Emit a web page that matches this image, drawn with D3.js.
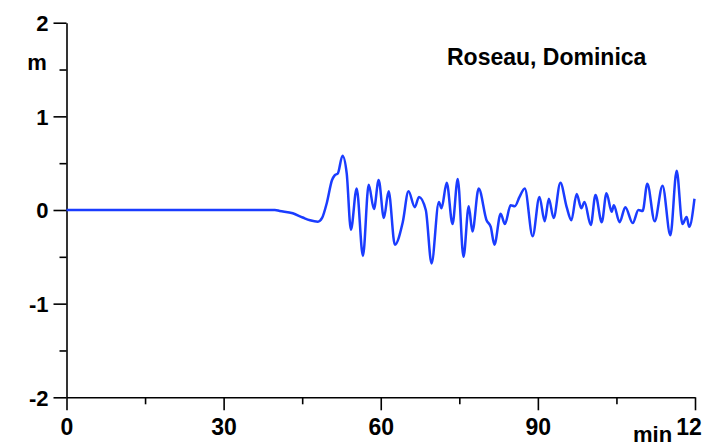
<!DOCTYPE html>
<html>
<head>
<meta charset="utf-8">
<script src="https://cdn.jsdelivr.net/npm/d3@7"></script>
<style>
  body { margin: 0; background: #fff; }
  text { font-family: "Liberation Sans", Arial, sans-serif; font-weight: bold; fill: #000; }
</style>
</head>
<body>
<div id="chart"></div>
<script>
// tide gauge record, minutes vs sea level (m)
const times = [0, 39.8, 40.7, 43.2, 45.1, 46.5, 48.0, 48.8, 49.7, 50.7, 51.2, 51.8, 52.7, 53.5,
  54.3, 55.4, 56.6, 57.7, 58.7, 59.6, 60.6, 61.5, 62.7, 64.2, 65.3, 66.5, 67.3, 68.6, 69.7,
  71.1, 71.6, 72.6, 73.7, 74.7, 75.8, 76.8, 77.5, 78.7, 80.2, 81.0, 81.7, 82.9, 83.7, 84.8,
  85.6, 86.5, 87.5, 89.0, 90.3, 91.3, 92.1, 93.0, 94.3, 95.5, 96.4, 97.4, 98.3, 98.9, 100.1,
  101.0, 102.2, 103.1, 104.1, 104.5, 105.6, 106.7, 108.1, 109.2, 110.0, 110.9, 112.3, 113.8,
  115.3, 116.5, 117.6, 118.4, 118.9, 119.9];
const levels = [0, 0, -0.01, -0.035, -0.08, -0.11, -0.125, -0.085, 0.075, 0.32, 0.37, 0.39, 0.58, 0.39,
  -0.21, 0.23, -0.49, 0.27, 0.01, 0.32, -0.085, 0.2, -0.37, -0.13, 0.2, 0.03, 0.14, 0, -0.57,
  0.085, 0.02, 0.29, -0.15, 0.33, -0.5, 0.04, -0.23, 0.23, -0.11, -0.18, -0.37, -0.04, -0.15, 0.05,
  0.04, 0.14, 0.23, -0.28, 0.14, -0.12, 0.12, -0.085, 0.29, 0.03, -0.11, 0.17, 0.02, 0.085, -0.16,
  0.16, -0.13, 0.18, -0.02, 0.05, -0.13, 0.03, -0.14, 0, -0.01, 0.28, -0.12, 0.26,
  -0.27, 0.42, -0.15, -0.075, -0.18, 0.12];

const xMajor = [0, 30, 60, 90, 120];
const xMinor = [15, 45, 75, 105];
const yMajor = [-2, -1, 0, 1, 2];
const yMinor = [-1.5, -0.5, 0.5, 1.5];

const W = 702, H = 446;
const svg = d3.select("#chart").append("svg")
  .attr("width", W).attr("height", H);

const x = d3.scaleLinear().domain([0, 120]).range([66.5, 695]);
const y = d3.scaleLinear().domain([-2, 2]).range([397.3, 22.7]);

// plain hyphen for negatives, like the original
const fmt = d => String(d);

// axes
const gx = svg.append("g").attr("transform", `translate(0,${y(-2)})`)
  .call(d3.axisBottom(x).tickValues(xMajor).tickSize(13).tickSizeOuter(0).tickFormat(fmt));
svg.append("g").attr("transform", `translate(0,${y(-2)})`)
  .call(d3.axisBottom(x).tickValues(xMinor).tickSize(7).tickSizeOuter(0).tickFormat(""))
  .select(".domain").remove();
const gy = svg.append("g").attr("transform", `translate(${x(0)},0)`)
  .call(d3.axisLeft(y).tickValues(yMajor).tickSize(13).tickSizeOuter(0).tickFormat(fmt));
svg.append("g").attr("transform", `translate(${x(0)},0)`)
  .call(d3.axisLeft(y).tickValues(yMinor).tickSize(7).tickSizeOuter(0).tickFormat(""))
  .select(".domain").remove();

svg.selectAll(".domain, .tick line").attr("stroke", "#000").attr("stroke-width", 1.6);
gx.selectAll(".tick text").attr("font-size", 23).attr("y", 0).attr("dy", 0)
  .attr("transform", "translate(0,38)");
gy.selectAll(".tick text").attr("font-size", 22).attr("x", -18).attr("dy", "0.36em");
svg.selectAll(".tick text").attr("font-family", null).style("font-weight", "bold");

// unit labels
svg.append("text").attr("x", 37).attr("y", 70).attr("text-anchor", "middle")
  .attr("font-size", 22).text("m");
svg.append("text").attr("x", 633).attr("y", 442).attr("font-size", 22).text("min");

// station name
svg.append("text").attr("x", 447).attr("y", 65).attr("font-size", 23).text("Roseau, Dominica");

// series
const line = d3.line()
  .x((d, i) => x(times[i]))
  .y(d => y(d))
  .curve(d3.curveMonotoneX);
svg.append("path")
  .datum(levels)
  .attr("fill", "none")
  .attr("stroke", "#1a3cff")
  .attr("stroke-width", 2.5)
  .attr("stroke-linejoin", "round")
  .attr("d", line);
</script>
</body>
</html>
